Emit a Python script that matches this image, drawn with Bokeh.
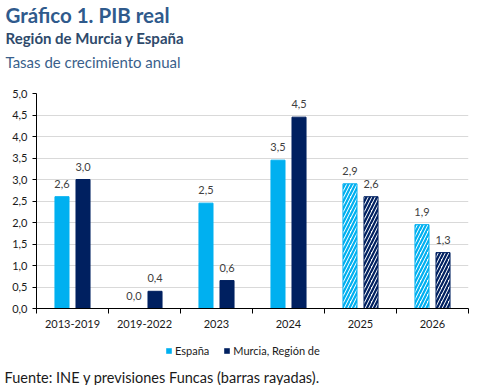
from bokeh.plotting import figure
from bokeh.models import (ColumnDataSource, FixedTicker, Legend, LegendItem, Title)
from bokeh.layouts import column
from bokeh.core.properties import value
from bokeh.embed import file_html
from bokeh.resources import INLINE

# ---- data ----
categories = ["2013-2019", "2019-2022", "2023", "2024", "2025", "2026"]
espana = [2.6, 0.0, 2.45, 3.45, 2.9, 1.95]
murcia = [3.0, 0.4, 0.65, 4.45, 2.6, 1.3]
espana_labels = ["2,6", "0,0", "2,5", "3,5", "2,9", "1,9"]
murcia_labels = ["3,0", "0,4", "0,6", "4,5", "2,6", "1,3"]
forecast = [False, False, False, False, True, True]
y_ticks = [0.0, 0.5, 1.0, 1.5, 2.0, 2.5, 3.0, 3.5, 4.0, 4.5, 5.0]
y_tick_labels = ["0,0", "0,5", "1,0", "1,5", "2,0", "2,5", "3,0", "3,5", "4,0", "4,5", "5,0"]
series_names = ["España", "Murcia, Región de"]

C_ESP = "#00B0F0"
C_MUR = "#002060"
FONT = "Lato"

p = figure(width=481, height=336, x_range=(0, 6), y_range=(0, 5),
           output_backend="svg", toolbar_location=None,
           min_border_left=36, min_border_right=13, min_border_top=92, min_border_bottom=28,
           title=None)
p.outline_line_color = None
p.background_fill_color = "white"
p.border_fill_color = "white"

OFF = 0.146
BW = 0.195

def make_source(vals, labels, offset, color):
    xs = [i + 0.5 + offset for i in range(len(categories))]
    fills = ["white" if f else color for f in forecast]
    hatches = ["/" if f else " " for f in forecast]
    return ColumnDataSource(dict(x=xs, top=vals, lab=labels, fill=fills, hatch=hatches))

src_e = make_source(espana, espana_labels, -OFF, C_ESP)
src_m = make_source(murcia, murcia_labels, OFF, C_MUR)

for src, col in ((src_e, C_ESP), (src_m, C_MUR)):
    p.vbar(x="x", top="top", bottom=0, width=BW, source=src, fill_color="fill",
           line_color=col, line_width=1, hatch_pattern="hatch", hatch_color=col,
           hatch_scale=7, hatch_weight=2.2)
    p.text(x="x", y="top", text="lab", source=src, text_align="center",
           text_baseline="bottom", y_offset=-9, text_font=value(FONT),
           text_font_size="11px", text_color="#404040")

# axes
xa = p.xaxis[0]
xa.ticker = FixedTicker(ticks=[i + 0.5 for i in range(len(categories))],
                        minor_ticks=list(range(len(categories) + 1)))
xa.major_label_overrides = {i + 0.5: c for i, c in enumerate(categories)}
xa.major_tick_line_color = None
xa.major_tick_out = 0
xa.major_tick_in = 0
xa.minor_tick_out = 5
xa.minor_tick_in = 0
xa.minor_tick_line_color = "black"
xa.axis_line_color = "black"
xa.major_label_standoff = 6
xa.major_label_text_font = FONT
xa.major_label_text_font_size = "11px"
xa.major_label_text_color = "#1a1a1a"

ya = p.yaxis[0]
ya.ticker = FixedTicker(ticks=y_ticks, minor_ticks=[])
ya.major_label_overrides = {t: l for t, l in zip(y_ticks, y_tick_labels)}
ya.major_tick_out = 4
ya.major_tick_in = 0
ya.major_tick_line_color = "black"
ya.minor_tick_line_color = None
ya.axis_line_color = "black"
ya.major_label_standoff = 5
ya.major_label_text_font = FONT
ya.major_label_text_font_size = "11px"
ya.major_label_text_color = "#1a1a1a"

p.xgrid.grid_line_color = None
p.ygrid.grid_line_color = "#D9D9D9"
p.ygrid.ticker = FixedTicker(ticks=y_ticks)

# titles
def add_title(fig, text, place, size, color, style="normal", standoff=0, offset=-31):
    fig.add_layout(Title(text=text, align="left", offset=offset, standoff=standoff,
                         text_font=FONT, text_font_size=size, text_color=color,
                         text_font_style=style), place)

add_title(p, " ", "above", "2px", "white", standoff=15)
add_title(p, "Tasas de crecimiento anual", "above", "15px", "#3A5F8B", standoff=8)
add_title(p, "Región de Murcia y España", "above", "15px", "#2E4A6B", "bold", standoff=0)
add_title(p, "Gráfico 1. PIB real", "above", "20.5px", "#2F5A8C", "bold", standoff=0)

# legend + source strip
p2 = figure(width=481, height=49, x_range=(0, 1), y_range=(0, 1),
            output_backend="svg", toolbar_location=None,
            x_axis_location=None, y_axis_location=None,
            min_border_left=36, min_border_right=13, min_border_top=0, min_border_bottom=0,
            title=None)
p2.outline_line_color = None
p2.xgrid.visible = False
p2.ygrid.visible = False
p2.border_fill_color = "white"
p2.background_fill_color = "white"

# legend proxies: zero-size glyphs, only used for the legend swatches
r_e = p2.vbar(x=[0.5], top=[0], bottom=[0], width=0, fill_color=C_ESP, line_color=None)
r_m = p2.vbar(x=[0.5], top=[0], bottom=[0], width=0, fill_color=C_MUR, line_color=None)
legend = Legend(items=[LegendItem(label=series_names[0], renderers=[r_e]),
                       LegendItem(label=series_names[1], renderers=[r_m])],
                orientation="horizontal", location=(129, 9),
                glyph_width=7, glyph_height=7, label_standoff=3, spacing=14,
                padding=0, margin=0, border_line_color=None,
                background_fill_alpha=0,
                label_text_font=FONT, label_text_font_size="11px",
                label_text_color="#1a1a1a", label_height=12)
p2.add_layout(legend, "center")

add_title(p2, "Fuente: INE y previsiones Funcas (barras rayadas).", "below", "14.5px",
          "#1a1a1a", standoff=0, offset=-32)

layout = column(p, p2, spacing=0)
open("out.html", "w").write(file_html(layout, INLINE))
